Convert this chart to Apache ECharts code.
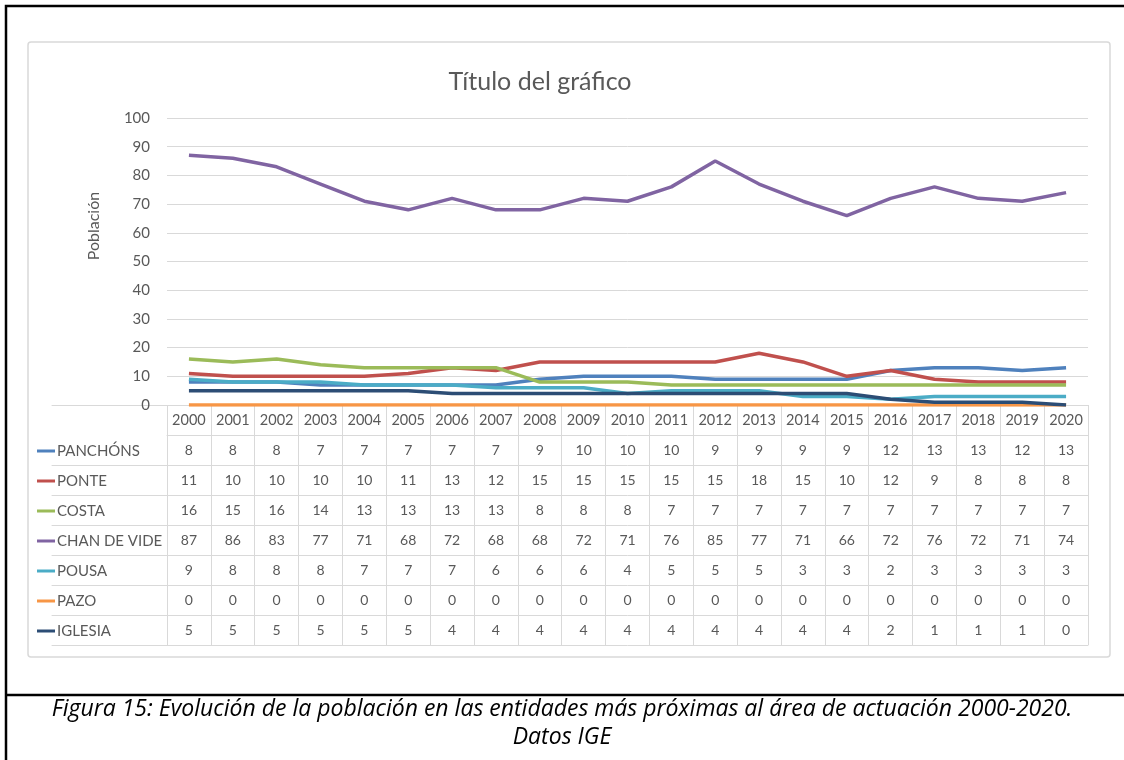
<!DOCTYPE html>
<html>
<head>
<meta charset="utf-8">
<title>Evolución de la población</title>
<script src="https://cdn.jsdelivr.net/npm/echarts@6/dist/echarts.min.js"></script>
<style>
  html, body { margin: 0; padding: 0; background: #fff; }
  #chart { width: 1124px; height: 760px; }
</style>
</head>
<body>
<div id="chart"></div>
<script>
// datos IGE 2000-2020
var years = ['2000', '2001', '2002', '2003', '2004', '2005', '2006', '2007', '2008', '2009', '2010',
  '2011', '2012', '2013', '2014', '2015', '2016', '2017', '2018', '2019', '2020'];
var seriesNames = ['PANCHÓNS', 'PONTE', 'COSTA', 'CHAN DE VIDE', 'POUSA', 'PAZO', 'IGLESIA'];
var panchons = [8, 8, 8, 7, 7, 7, 7, 7, 9, 10, 10, 10, 9, 9, 9, 9, 12, 13, 13, 12, 13];
var ponte = [11, 10, 10, 10, 10, 11, 13, 12, 15, 15, 15, 15, 15, 18, 15, 10, 12, 9, 8, 8, 8];
var costa = [16, 15, 16, 14, 13, 13, 13, 13, 8, 8, 8, 7, 7, 7, 7, 7, 7, 7, 7, 7, 7];
var chanDeVide = [87, 86, 83, 77, 71, 68, 72, 68, 68, 72, 71, 76, 85, 77, 71, 66, 72, 76, 72, 71, 74];
var pousa = [9, 8, 8, 8, 7, 7, 7, 6, 6, 6, 4, 5, 5, 5, 3, 3, 2, 3, 3, 3, 3];
var pazo = [0, 0, 0, 0, 0, 0, 0, 0, 0, 0, 0, 0, 0, 0, 0, 0, 0, 0, 0, 0, 0];
var iglesia = [5, 5, 5, 5, 5, 5, 4, 4, 4, 4, 4, 4, 4, 4, 4, 4, 2, 1, 1, 1, 0];
var yTicks = [0, 100, 10]; // min, max, interval

var rows = [panchons, ponte, costa, chanDeVide, pousa, pazo, iglesia];
var colors = ['#4F81BD', '#C0504D', '#9BBB59', '#8064A2', '#4BACC6', '#F79646', '#2C4D75'];

var textColor = '#595959';
var lineColor = '#d9d9d9';
var font = 'Lato, "Open Sans", sans-serif';
var rowH = 30;

var myChart = echarts.init(document.getElementById('chart'));

// eje de años (cabecera de la tabla) + un eje por fila de valores
var xAxes = [{
  type: 'category',
  gridIndex: 0,
  data: years,
  boundaryGap: true,
  position: 'bottom',
  offset: 0,
  axisLine: {lineStyle: {color: lineColor, width: 1}},
  axisTick: {show: true, length: rowH, interval: 0, lineStyle: {color: lineColor}},
  axisLabel: {color: textColor, fontSize: 14.5, fontFamily: font, margin: 8, interval: 0, hideOverlap: false}
}];
rows.forEach(function (row, k) {
  xAxes.push({
    type: 'category',
    gridIndex: 0,
    data: years,
    boundaryGap: true,
    position: 'bottom',
    offset: (k + 1) * rowH,
    axisLine: {lineStyle: {color: lineColor, width: 1}},
    axisTick: {show: true, length: rowH, interval: 0, lineStyle: {color: lineColor}},
    axisLabel: {
      color: textColor, fontSize: 14, fontFamily: font, margin: 8, interval: 0,
      formatter: function (v, i) { return String(row[i]); }
    }
  });
});
// línea inferior de la tabla
xAxes.push({
  type: 'category', gridIndex: 0, data: years, position: 'bottom',
  offset: (rows.length + 1) * rowH,
  axisLine: {lineStyle: {color: lineColor}}, axisTick: {show: false}, axisLabel: {show: false}
});
// parte izquierda de las líneas horizontales (columna de nombres)
for (var k = 1; k <= rows.length + 1; k++) {
  xAxes.push({
    type: 'category', gridIndex: 1, data: [''], position: 'bottom',
    offset: k * rowH,
    axisLine: {lineStyle: {color: lineColor}}, axisTick: {show: false}, axisLabel: {show: false}
  });
}

var series = rows.map(function (row, k) {
  return {
    name: seriesNames[k],
    type: 'line',
    xAxisIndex: 0,
    yAxisIndex: 0,
    data: row,
    showSymbol: false,
    symbol: 'none',
    lineStyle: {width: 3.5, color: colors[k]},
    itemStyle: {color: colors[k]},
    z: 2 + k
  };
});

var option = {
  backgroundColor: '#fff',
  animation: false,
  color: colors,
  title: {
    text: 'Título del gráfico',
    left: 535,
    top: 64,
    textAlign: 'center',
    textStyle: {color: textColor, fontSize: 25, fontWeight: 'normal', fontFamily: font}
  },
  legend: {
    orient: 'vertical',
    left: 32,
    top: 438,
    data: seriesNames,
    icon: 'rect',
    itemWidth: 18,
    itemHeight: 3,
    itemGap: 14,
    selectedMode: false,
    textStyle: {color: textColor, fontSize: 15, fontFamily: font, lineHeight: 16, padding: [0, 0, 0, -3]}
  },
  grid: [
    {left: 167, right: 36, top: 118, bottom: 355},
    {left: 52, right: 957, top: 118, bottom: 355}
  ],
  xAxis: xAxes,
  yAxis: [{
    type: 'value',
    gridIndex: 0,
    min: yTicks[0],
    max: yTicks[1],
    interval: yTicks[2],
    axisLine: {show: false},
    axisTick: {show: false},
    axisLabel: {color: textColor, fontSize: 15, fontFamily: font, margin: 17},
    splitLine: {lineStyle: {color: lineColor, width: 1}}
  }, {
    type: 'value', gridIndex: 1, show: false
  }],
  graphic: [
    {
      type: 'rect', silent: true, z: -10,
      shape: {x: 28, y: 42, width: 1082, height: 615, r: 3},
      style: {fill: '#fff', stroke: lineColor, lineWidth: 1.5}
    },
    {
      type: 'text', silent: true,
      x: 94, y: 226, rotation: Math.PI / 2,
      style: {text: 'Población', fill: textColor, font: '16px ' + font, textAlign: 'center', textVerticalAlign: 'middle'}
    },
    {
      type: 'rect', silent: true, z: 100,
      shape: {x: 6, y: 6, width: 1140, height: 800},
      style: {fill: 'none', stroke: '#000', lineWidth: 2.5}
    },
    {
      type: 'line', silent: true, z: 100,
      shape: {x1: 6, y1: 695, x2: 1124, y2: 695},
      style: {stroke: '#000', lineWidth: 2.5}
    },
    {
      type: 'text', silent: true, z: 100,
      x: 562, y: 709,
      style: {
        text: 'Figura 15: Evolución de la población en las entidades más próximas al área de actuación 2000-2020.',
        fill: '#000', font: 'italic 23px "Open Sans", sans-serif', textAlign: 'center', textVerticalAlign: 'middle'
      }
    },
    {
      type: 'text', silent: true, z: 100,
      x: 562, y: 737,
      style: {text: 'Datos IGE', fill: '#000', font: 'italic 23px "Open Sans", sans-serif', textAlign: 'center', textVerticalAlign: 'middle'}
    }
  ],
  series: series
};

option && myChart.setOption(option);
</script>
</body>
</html>
